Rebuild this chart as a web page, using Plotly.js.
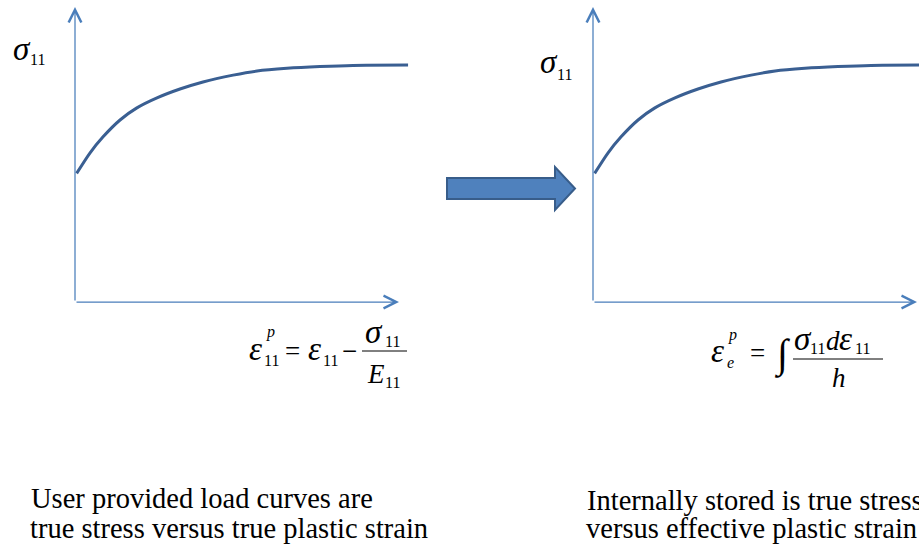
<!DOCTYPE html>
<html>
<head>
<meta charset="utf-8">
<script src="https://cdn.plot.ly/plotly-3.0.1.min.js"></script>
<style>html,body{margin:0;padding:0;background:#fff;}#chart{width:919px;height:550px;}</style>
</head>
<body>
<div id="chart"></div>
<script>
// ---- data ----
// strain: fraction of the horizontal axis length; stress: fraction of the vertical axis length
var plasticStrain = [0.005, 0.046, 0.086, 0.139, 0.191, 0.253, 0.324, 0.395, 0.488, 0.562, 0.654, 0.756, 0.858, 1.028];
var trueStress    = [0.436, 0.505, 0.559, 0.617, 0.658, 0.692, 0.722, 0.746, 0.769, 0.783, 0.792, 0.798, 0.802, 0.803];
var effectiveStrain = [0.005, 0.046, 0.086, 0.139, 0.191, 0.253, 0.324, 0.395, 0.488, 0.562, 0.654, 0.756, 0.858, 1.028];
var storedStress    = [0.436, 0.505, 0.559, 0.617, 0.658, 0.692, 0.722, 0.746, 0.769, 0.783, 0.792, 0.798, 0.802, 0.803];
var yLabel = "σ";
var captionLeft = ["User provided load curves are", "true stress versus true plastic strain"];
var captionRight = ["Internally stored is true stress", "versus effective plastic strain"];

// ---- geometry ----
var W = 919, H = 550;
var FONT = "Liberation Serif, Times New Roman, serif";
var AXIS_COLOR = "#4A7EBB", CURVE_COLOR = "#3A5F92";
var originY = 302, axisLenY = 295, axisLenX = 324;
var leftOrigin = 75, rightOrigin = 593;
var GREEK = 33, MAIN = 27, SUB = 16, CAP = 28.5;

function px(x){ return x / W; }
function py(y){ return 1 - y / H; }

function xRange(domPx0, domPx1, origin){
  return [(domPx0 - origin) / axisLenX, (domPx1 - origin) / axisLenX];
}
var yRange = [(originY - H) / axisLenY, originY / axisLenY];

var annotations = [];
var shapes = [];

function txt(text, xLeft, baseline, size, italic){
  annotations.push({
    xref: "paper", yref: "paper",
    x: px(xLeft), y: py(baseline - 0.34 * size),
    xanchor: "left", yanchor: "middle",
    text: italic ? "<i>" + text + "</i>" : text,
    showarrow: false, borderpad: 0, borderwidth: 0,
    font: {family: FONT, size: size, color: "#000"}
  });
}
function fracLine(x0, x1, y){
  shapes.push({type: "line", xref: "paper", yref: "paper",
    x0: px(x0), x1: px(x1), y0: py(y), y1: py(y),
    line: {color: "#000", width: 1}});
}
function axisArrows(xa, ya){
  annotations.push({xref: xa, yref: ya, axref: xa, ayref: ya,
    x: 0, y: 1, ax: 0, ay: 0, text: "", showarrow: true,
    arrowhead: 5, arrowsize: 2, arrowwidth: 1.25, arrowcolor: AXIS_COLOR, standoff: 0});
  annotations.push({xref: xa, yref: ya, axref: xa, ayref: ya,
    x: 1, y: 0, ax: 0, ay: 0, text: "", showarrow: true,
    arrowhead: 5, arrowsize: 2, arrowwidth: 1.25, arrowcolor: AXIS_COLOR, standoff: 0});
}
axisArrows("x", "y");
axisArrows("x2", "y2");

// y-axis labels
txt(yLabel, 13, 60, GREEK, true);  txt("11", 30, 65, SUB, false);
txt(yLabel, 540, 73, GREEK, true); txt("11", 557, 80, SUB, false);

// left formula
txt("ε", 249, 360, GREEK, true);
txt("p", 266, 337, SUB, true);
txt("11", 264, 366, SUB, false);
txt("=", 285, 360, MAIN, false);
txt("ε", 308, 360, GREEK, true);
txt("11", 323, 366, SUB, false);
txt("−", 342, 360, MAIN, false);
txt("σ", 365, 343, GREEK, true);
txt("11", 385, 347, SUB, false);
fracLine(362, 407, 351);
txt("E", 367, 383, MAIN, true);
txt("11", 385, 388, SUB, false);

// right formula
txt("ε", 711, 362, GREEK, true);
txt("p", 728, 340, SUB, true);
txt("e", 727, 368, SUB, true);
txt("=", 750, 362, MAIN, false);
txt("∫", 774, 368, 40, false);
txt("σ", 794, 350, GREEK, true);
txt("11", 810, 354, SUB, false);
txt("d", 826, 350, MAIN, true);
txt("ε", 839, 350, GREEK, true);
txt("11", 855, 354, SUB, false);
fracLine(793, 883, 359);
txt("h", 832, 387, MAIN, true);

// captions
txt(captionLeft[0], 31, 508, CAP, false);
txt(captionLeft[1], 30, 538, CAP, false);
txt(captionRight[0], 587, 510, CAP, false);
txt(captionRight[1], 586, 538, CAP, false);

// big block arrow between panels
function P(x, y){ return px(x).toFixed(5) + "," + py(y).toFixed(5); }
shapes.push({type: "path", xref: "paper", yref: "paper",
  path: "M" + P(447,178) + " L" + P(555,178) + " L" + P(555,167) + " L" + P(575,188.5) +
        " L" + P(555,210) + " L" + P(555,199) + " L" + P(447,199) + " Z",
  fillcolor: "#4F81BD", line: {color: "#385D8A", width: 2}});

var hidden = {showgrid: false, zeroline: false, showticklabels: false, showline: false, ticks: "", fixedrange: true};

var traces = [
  {x: plasticStrain, y: trueStress, xaxis: "x", yaxis: "y", mode: "lines",
   line: {color: CURVE_COLOR, width: 3, shape: "spline", smoothing: 0.7}, hoverinfo: "skip"},
  {x: effectiveStrain, y: storedStress, xaxis: "x2", yaxis: "y2", mode: "lines",
   line: {color: CURVE_COLOR, width: 3, shape: "spline", smoothing: 0.7}, hoverinfo: "skip"}
];

var layout = {
  width: W, height: H, margin: {l: 0, r: 0, t: 0, b: 0},
  paper_bgcolor: "#fff", plot_bgcolor: "rgba(0,0,0,0)", showlegend: false,
  xaxis: Object.assign({domain: [0, 0.5], range: xRange(0, 459.5, leftOrigin)}, hidden),
  yaxis: Object.assign({domain: [0, 1], range: yRange}, hidden),
  xaxis2: Object.assign({domain: [0.5, 1], range: xRange(459.5, 919, rightOrigin), anchor: "y2"}, hidden),
  yaxis2: Object.assign({domain: [0, 1], range: yRange, anchor: "x2"}, hidden),
  annotations: annotations, shapes: shapes
};

Plotly.newPlot("chart", traces, layout, {displayModeBar: false, staticPlot: true});
</script>
</body>
</html>
